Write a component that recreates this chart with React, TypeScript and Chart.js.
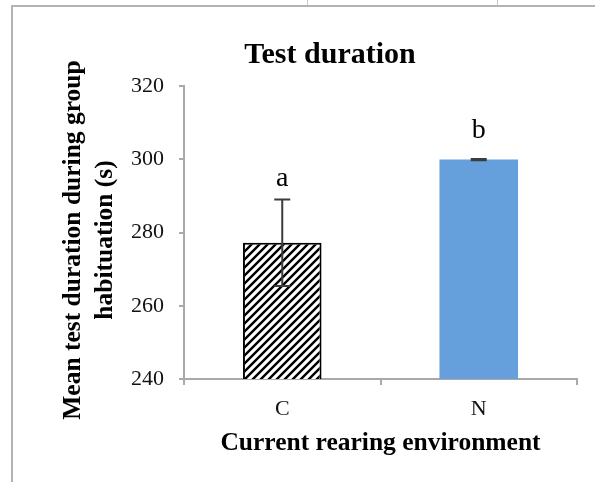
import React, { useEffect, useRef } from "react";
import { Chart, registerables } from "chart.js";

Chart.register(...registerables);

const categories = ["C", "N"];
const meanDuration = [277.2, 299.9];
const stdError = [11.8, 0.2];
const sigLetters = ["a", "b"];
const sigLetterAt = [292.6, 305.7];
const yTicks = { min: 240, max: 320, step: 20 };
const chartTitle = "Test duration";
const yTitle = ["Mean test duration during group", "habituation (s)"];
const xTitle = "Current rearing environment";

const FONT = "'Liberation Serif', 'Times New Roman', serif";
const AXIS_GREY = "#a9a9a9";

function makeHatch(): CanvasPattern | string {
  const s = 8;
  const c = document.createElement("canvas");
  c.width = s;
  c.height = s;
  const g = c.getContext("2d");
  if (!g) return "#fff";
  g.fillStyle = "#ffffff";
  g.fillRect(0, 0, s, s);
  g.strokeStyle = "#000000";
  g.lineWidth = 2.4;
  g.beginPath();
  g.moveTo(0, s);
  g.lineTo(s, 0);
  g.moveTo(-2, 2);
  g.lineTo(2, -2);
  g.moveTo(s - 2, s + 2);
  g.lineTo(s + 2, s - 2);
  g.stroke();
  const p = g.createPattern(c, "repeat");
  return p || "#fff";
}

const decorPlugin = {
  id: "decor",
  beforeDraw(chart: any) {
    const ctx = chart.ctx;
    ctx.save();
    ctx.fillStyle = "#ffffff";
    ctx.fillRect(0, 0, chart.width, chart.height);
    ctx.strokeStyle = "#b3b3b3";
    ctx.lineWidth = 2;
    ctx.beginPath();
    ctx.moveTo(12, chart.height);
    ctx.lineTo(12, 6);
    ctx.lineTo(chart.width, 6);
    ctx.stroke();
    ctx.lineWidth = 1;
    ctx.strokeStyle = "#c8c8c8";
    ctx.beginPath();
    ctx.moveTo(307.5, 0);
    ctx.lineTo(307.5, 5);
    ctx.moveTo(497.5, 0);
    ctx.lineTo(497.5, 5);
    ctx.stroke();
    ctx.restore();
  },
  afterDatasetsDraw(chart: any) {
    const ctx = chart.ctx;
    const x = chart.scales.x;
    const y = chart.scales.y;
    ctx.save();
    ctx.strokeStyle = "#3c3c3c";
    ctx.lineWidth = 2;
    meanDuration.forEach((m, i) => {
      const cx = x.getPixelForValue(i);
      const top = y.getPixelForValue(m + stdError[i]);
      const bot = y.getPixelForValue(m - stdError[i]);
      ctx.beginPath();
      ctx.moveTo(cx, top);
      ctx.lineTo(cx, bot);
      ctx.moveTo(cx - 8, top);
      ctx.lineTo(cx + 8, top);
      ctx.moveTo(cx - 8, bot);
      ctx.lineTo(cx + 8, bot);
      ctx.stroke();
    });
    ctx.fillStyle = "#000";
    ctx.font = `28px ${FONT}`;
    ctx.textAlign = "center";
    ctx.textBaseline = "alphabetic";
    sigLetters.forEach((l, i) => {
      ctx.fillText(l, x.getPixelForValue(i), y.getPixelForValue(sigLetterAt[i]));
    });
    ctx.font = `bold 30px ${FONT}`;
    ctx.fillText(chartTitle, 330, 63);
    ctx.font = `bold 25.5px ${FONT}`;
    const lineX = [80, 111.5];
    yTitle.forEach((t, i) => {
      ctx.save();
      ctx.translate(lineX[i], 240);
      ctx.rotate(-Math.PI / 2);
      ctx.fillText(t, 0, 0);
      ctx.restore();
    });
    ctx.restore();
  },
};

export default function App() {
  const ref = useRef<HTMLCanvasElement | null>(null);
  useEffect(() => {
    if (!ref.current) return;
    const hatch = makeHatch();
    const chart = new Chart(ref.current, {
      type: "bar",
      data: {
        labels: categories,
        datasets: [
          {
            data: meanDuration,
            backgroundColor: [hatch as any, "#659fdc"],
            borderColor: ["#000000", "#659fdc"],
            borderWidth: [2, 0] as any,
            categoryPercentage: 1,
            barPercentage: 0.4,
          },
        ],
      },
      options: {
        animation: false,
        responsive: false,
        maintainAspectRatio: false,
        layout: { padding: { left: 0, right: 18, top: 86, bottom: 0 } },
        plugins: {
          legend: { display: false },
          title: { display: false },
          tooltip: { enabled: false },
        },
        scales: {
          x: {
            afterFit: (s: any) => {
              s.height = 103;
            },
            grid: {
              display: true,
              drawOnChartArea: false,
              drawTicks: true,
              offset: true,
              tickLength: 6,
              color: AXIS_GREY,
              lineWidth: 2,
            },
            border: { display: true, color: AXIS_GREY, width: 2 },
            ticks: {
              color: "#111",
              padding: 11,
              font: { family: FONT, size: 22 },
            },
            title: {
              display: true,
              text: xTitle,
              color: "#000",
              font: { family: FONT, size: 25.5, weight: "bold", lineHeight: 1.2 },
              padding: { top: 0, bottom: 23 },
            },
          },
          y: {
            min: yTicks.min,
            max: yTicks.max,
            afterFit: (s: any) => {
              s.width = 184;
            },
            grid: {
              display: true,
              drawOnChartArea: false,
              drawTicks: true,
              tickLength: 5,
              color: AXIS_GREY,
              lineWidth: 2,
            },
            border: { display: true, color: AXIS_GREY, width: 2 },
            ticks: {
              stepSize: yTicks.step,
              color: "#111",
              padding: 15,
              font: { family: FONT, size: 22 },
            },
          },
        },
      },
      plugins: [decorPlugin],
    });
    return () => chart.destroy();
  }, []);
  return (
    <div style={{ position: "absolute", left: 0, top: 0, width: 595, height: 482, background: "#fff" }}>
      <canvas ref={ref} width={595} height={482} style={{ display: "block" }} />
    </div>
  );
}
